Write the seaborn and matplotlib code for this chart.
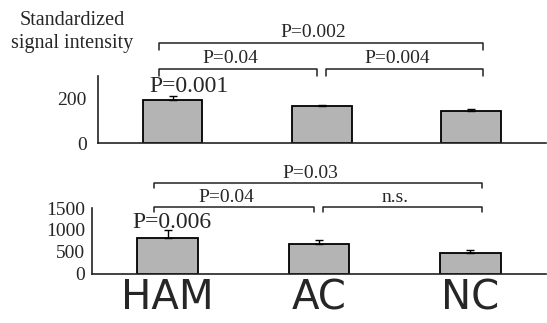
import numpy as np
import pandas as pd
import matplotlib
matplotlib.use("Agg")
import matplotlib.pyplot as plt
import seaborn as sns

# data
groups = ["HAM", "AC", "NC"]
top_values = [195, 165, 145]
top_errors = [15, 6, 8]
bottom_values = [820, 685, 480]
bottom_errors = [170, 80, 70]

top_pairs = [("P=0.002", 0, 2), ("P=0.04", 0, 1), ("P=0.004", 1, 2)]
bottom_pairs = [("P=0.03", 0, 2), ("P=0.04", 0, 1), ("n.s.", 1, 2)]
top_first = "P=0.001"
bottom_first = "P=0.006"
ylabel = "Standardized\nsignal intensity"

sns.set_style("white")
plt.rcParams["font.family"] = ["Liberation Serif", "DejaVu Serif"]

fig = plt.figure(figsize=(5.47, 3.23), dpi=100)
ax1 = fig.add_axes([0.179, 0.557, 0.819, 0.207])
ax2 = fig.add_axes([0.168, 0.152, 0.830, 0.204])

df_top = pd.DataFrame({"group": groups, "value": top_values})
df_bot = pd.DataFrame({"group": groups, "value": bottom_values})


def draw_panel(ax, df, errs, ylim):
    sns.barplot(data=df, x="group", y="value", color="#b4b4b4", saturation=1,
                width=0.4, edgecolor="black", linewidth=1.3, ax=ax, errorbar=None)
    x = np.arange(len(df))
    ax.errorbar(x, df["value"], yerr=[np.zeros(len(errs)), errs], fmt="none",
                ecolor="black", elinewidth=1, capsize=3, capthick=1)
    ax.set_xlim(-0.5, 2.5)
    ax.set_ylim(*ylim)
    ax.set_xlabel("")
    ax.set_ylabel("")
    for s in ["top", "right"]:
        ax.spines[s].set_visible(False)
    for s in ["left", "bottom"]:
        ax.spines[s].set_linewidth(1.2)
        ax.spines[s].set_color("#222222")
    ax.set_xticks([0.5, 1.5], minor=True)
    ax.tick_params(axis="x", which="major", length=0)
    ax.tick_params(axis="x", which="minor", direction="in", length=3, color="#222222")
    ax.tick_params(axis="y", which="both", direction="in", length=3, color="#222222")


def draw_brackets(ax, pairs, ys, drop, text_off, fs):
    ends = {0: -0.09, 1: 0.97, 2: 2.08}
    starts = {0: -0.09, 1: 1.03, 2: 2.08}
    for (label, a, b), y in zip(pairs, ys):
        x1 = starts[a]
        x2 = ends[b]
        ax.plot([x1, x1, x2, x2], [y - drop, y, y, y - drop], color="#222222",
                lw=1.1, clip_on=False)
        ax.text((x1 + x2) / 2 - 0.05, y + text_off, label, ha="center", va="center",
                fontsize=fs, clip_on=False)


# 上段
draw_panel(ax1, df_top, top_errors, (0, 300))
ax1.set_yticks([0, 200])
ax1.set_yticklabels(["0", "200"], fontsize=14)
ax1.set_yticks([100, 300], minor=True)
ax1.tick_params(axis="y", pad=8)
ax1.set_xticklabels([])
draw_brackets(ax1, top_pairs, [448, 331, 331], 30, 48, 14)
ax1.text(0.11, 255, top_first, ha="center", va="center", fontsize=17)

# 下段
draw_panel(ax2, df_bot, bottom_errors, (0, 1500))
ax2.set_yticks([0, 500, 1000, 1500])
ax2.set_yticklabels(["0", "500", "1000", "1500"], fontsize=14)
ax2.tick_params(axis="y", pad=5)
ax2.set_xticklabels(groups, fontsize=29, family="DejaVu Sans")
ax2.tick_params(axis="x", which="major", pad=3)
draw_brackets(ax2, bottom_pairs, [2068, 1523, 1523], 120, 220, 14)
ax2.text(0.03, 1159, bottom_first, ha="center", va="center", fontsize=17)

fig.text(72 / 547, 1 - 32 / 323, ylabel, ha="center", va="center", fontsize=14.5,
         linespacing=1.25)

fig.savefig("out.png", dpi=100)
